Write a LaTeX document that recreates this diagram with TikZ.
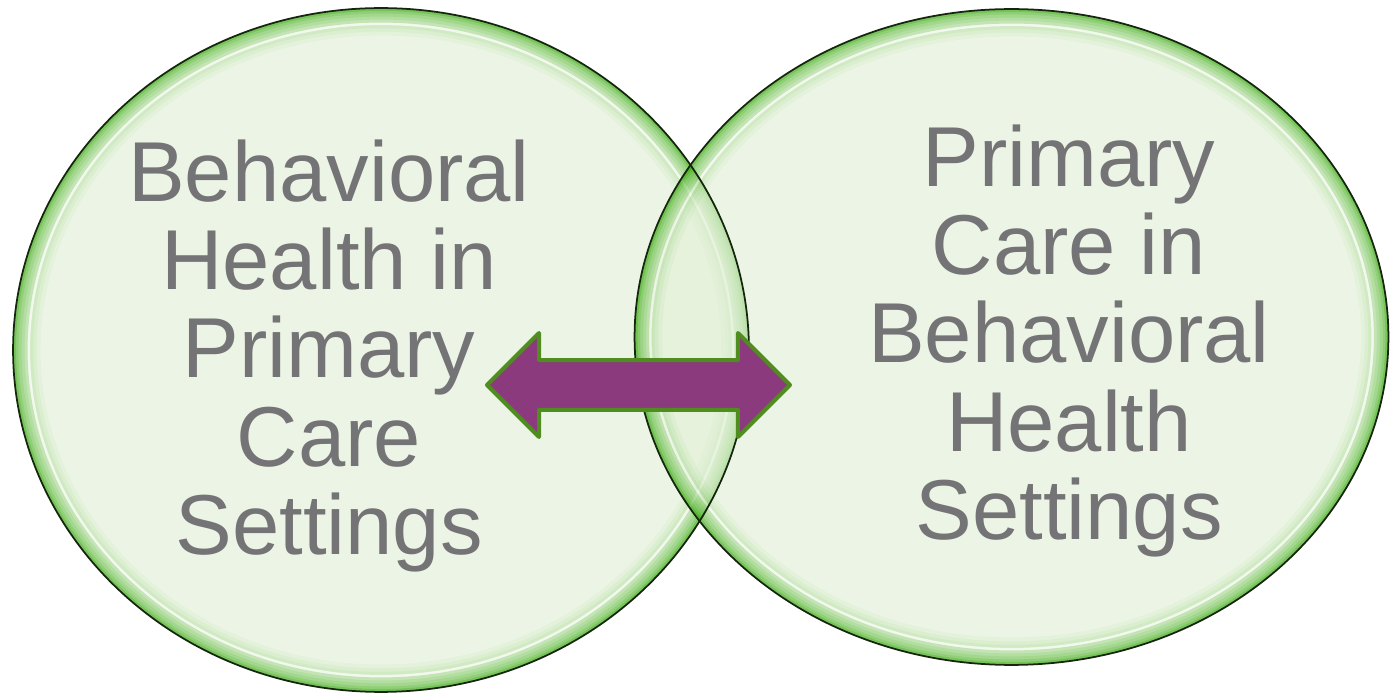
\documentclass[tikz,border=0pt]{standalone}
\usepackage{fontspec}
\setmainfont{Liberation Sans}
\usepackage{xcolor}
\usetikzlibrary{shapes.geometric,shapes.arrows}

\definecolor{bubblefill}{RGB}{226,240,215}
\definecolor{rimgreen}{RGB}{45,165,0}
\definecolor{bubbleedge}{RGB}{22,38,14}
\definecolor{linkfill}{RGB}{139,58,126}
\definecolor{linkedge}{RGB}{79,142,30}
\definecolor{labeltext}{RGB}{116,116,118}

\begin{document}
\begin{tikzpicture}[x=0.02cm, y=-0.02cm, bubble/.style={ellipse, inner sep=0pt}, rim/.style={draw=bubbleedge, line width=1pt}, caption/.style={text=labeltext, align=center, inner sep=0pt, font=\fontsize{48.4}{50.1}\selectfont}, link/.style={double arrow, draw=linkedge, fill=linkfill, line width=0.08cm, line join=round, inner xsep=0pt, inner ysep=0.46cm, double arrow head extend=0.54cm, minimum height=6.06cm}]
\useasboundingbox (0,0) rectangle (1390,695);
\node[bubble, minimum width=14.72cm, minimum height=13.68cm] (bhpc) at (381,350) {};
\node[bubble, minimum width=15.08cm, minimum height=13.12cm] (pcbh) at (1011.5,337) {};
% glassy bubbles: flat fill, then rings from the inside out to the green rim
\foreach \b/\rx/\ry in {bhpc/7.36/6.84, pcbh/7.54/6.56} {
  \begin{scope}[transparency group, opacity=0.65]
    \clip (\b.center) ellipse [x radius=\rx cm, y radius=\ry cm];
    \fill[bubblefill] (\b.center) ellipse [x radius=\rx cm, y radius=\ry cm];
    \foreach \w/\c in {1.1/bubblefill!93!rimgreen, 0.94/bubblefill!85!rimgreen, 0.8/bubblefill!76!rimgreen, 0.68/white!35!bubblefill, 0.58/bubblefill!66!rimgreen, 0.46/bubblefill!52!rimgreen, 0.34/bubblefill!38!rimgreen, 0.22/bubblefill!22!rimgreen, 0.12/rimgreen}
      \draw[\c, line width=\w cm] (\b.center) ellipse [x radius=\rx cm, y radius=\ry cm];
  \end{scope}
}
\draw[rim] (bhpc.center) ellipse [x radius=7.36cm, y radius=6.84cm];
\draw[rim] (pcbh.center) ellipse [x radius=7.54cm, y radius=6.56cm];
\node[caption] (bhpctext) at (329,356) {Behavioral\\Health in\\Primary\\Care\\Settings};
\node[caption] (pcbhtext) at (1069,341) {Primary\\Care in\\Behavioral\\Health\\Settings};
\node[link] (bridge) at (638.5,385) {};
\end{tikzpicture}
\end{document}
